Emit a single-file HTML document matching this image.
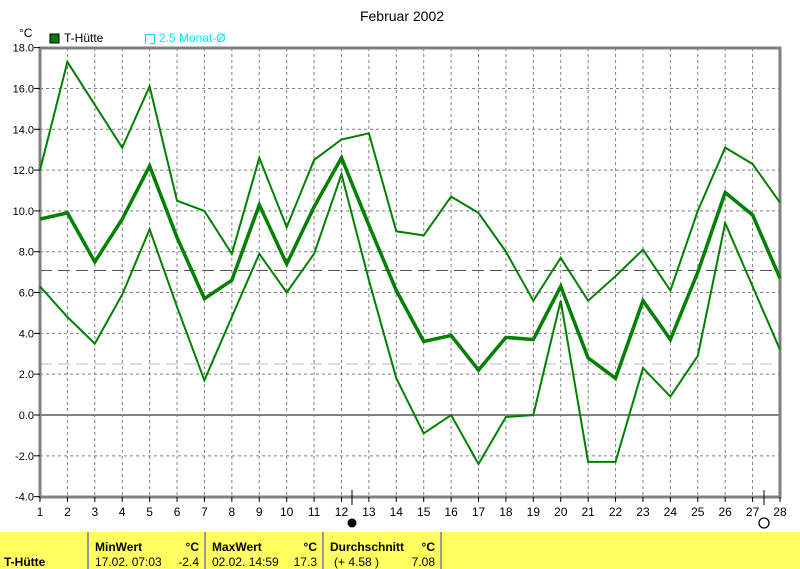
<!DOCTYPE html>
<html><head><meta charset="utf-8"><style>
body{margin:0;background:#fff;width:800px;height:569px;overflow:hidden;font-family:"Liberation Sans",sans-serif}
svg{position:absolute;left:0;top:0}
</style></head><body>
<svg id="s" width="800" height="569" xmlns="http://www.w3.org/2000/svg" font-family="Liberation Sans, sans-serif">
<text x="402" y="21" font-size="14" text-anchor="middle">Februar 2002</text>
<text x="19" y="37" font-size="12">°C</text>
<rect x="50" y="34" width="9" height="9" fill="#008000" stroke="#000" stroke-width="1"/>
<text x="64" y="42" font-size="12">T-Hütte</text>
<path d="M145.5 43.5V34.5H154.5V43.5H150" fill="none" stroke="#00e0ff" stroke-width="1"/>
<text x="159" y="42" font-size="12" fill="#00e8ff">2.5 Monat-Ø</text>
<g id="g"></g>
<rect x="0" y="532" width="800" height="37" fill="#ffff60"/>
<g stroke="#999" stroke-width="2"><line x1="88" y1="532" x2="88" y2="569"/><line x1="205" y1="532" x2="205" y2="569"/><line x1="323" y1="532" x2="323" y2="569"/><line x1="441" y1="532" x2="441" y2="569"/></g>
<g font-size="12">
<text x="4" y="566" font-weight="bold">T-Hütte</text>
<text x="95" y="551" font-weight="bold">MinWert</text><text x="199" y="551" font-weight="bold" text-anchor="end">°C</text>
<text x="95" y="566">17.02.  07:03</text><text x="199" y="566" text-anchor="end">-2.4</text>
<text x="212" y="551" font-weight="bold">MaxWert</text><text x="317" y="551" font-weight="bold" text-anchor="end">°C</text>
<text x="212" y="566">02.02.  14:59</text><text x="317" y="566" text-anchor="end">17.3</text>
<text x="330" y="551" font-weight="bold">Durchschnitt</text><text x="435" y="551" font-weight="bold" text-anchor="end">°C</text>
<text x="334" y="566">(+ 4.58 )</text><text x="435" y="566" text-anchor="end">7.08</text>
</g>
</svg>
<script>
const g=document.getElementById('g');let h='';
const X=n=>40+(n-1)*27.407, Y=v=>415-v*20.41;
for(let n=2;n<=27;n++)h+=`<line x1="${X(n)}" y1="48" x2="${X(n)}" y2="497" stroke="#808080" stroke-dasharray="3,3"/>`;
for(let v=-2;v<=16;v+=2)if(v!=0)h+=`<line x1="40" y1="${Y(v)}" x2="780" y2="${Y(v)}" stroke="#808080" stroke-dasharray="3,3"/>`;
h+=`<line x1="40" y1="${Y(0)}" x2="780" y2="${Y(0)}" stroke="#808080" stroke-width="2"/>`;
h+=`<line x1="40" y1="${Y(7.08)}" x2="780" y2="${Y(7.08)}" stroke="#555" stroke-dasharray="12,6"/>`;
h+=`<line x1="40" y1="${Y(2.5)}" x2="780" y2="${Y(2.5)}" stroke="#bbb" stroke-dasharray="12,6"/>`;
h+=`<path d="M40 48H780V497H40Z" fill="none" stroke="#808080" stroke-width="3"/>`;
for(let v=-4;v<=18;v+=2){h+=`<line x1="34" y1="${Y(v)}" x2="40" y2="${Y(v)}" stroke="#000"/><text x="34" y="${Y(v)+4}" font-size="11" text-anchor="end">${v.toFixed(1)}</text>`;}
for(let n=1;n<=28;n++){h+=`<line x1="${X(n)}" y1="497" x2="${X(n)}" y2="502" stroke="#000"/><text x="${X(n)}" y="516" font-size="12" text-anchor="middle">${n}</text>`;}
h+=`<line x1="352" y1="490" x2="352" y2="505" stroke="#000"/><circle cx="352" cy="523" r="4.5" fill="#000"/>`;
h+=`<line x1="764" y1="490" x2="764" y2="505" stroke="#000"/><circle cx="764" cy="523" r="5" fill="none" stroke="#000" stroke-width="1.3"/>`;
const mx=[12.0,17.3,15.2,13.1,16.1,10.5,10.0,7.9,12.6,9.2,12.5,13.5,13.8,9.0,8.8,10.7,9.9,8.0,5.6,7.7,5.6,6.8,8.1,6.1,10.0,13.1,12.3,10.4];
const me=[9.6,9.9,7.5,9.6,12.2,8.7,5.7,6.6,10.3,7.4,10.2,12.6,9.3,6.1,3.6,3.9,2.2,3.8,3.7,6.3,2.8,1.8,5.6,3.7,7.0,10.9,9.8,6.7];
const mn=[6.3,4.8,3.5,5.9,9.1,5.3,1.7,4.8,7.9,6.0,7.9,11.8,6.6,1.8,-0.9,0.0,-2.4,-0.1,0.0,5.6,-2.3,-2.3,2.3,0.9,2.9,9.4,6.3,3.2];
const P=a=>a.map((v,i)=>X(i+1).toFixed(1)+','+Y(v).toFixed(1)).join(' ');
h+=`<polyline points="${P(mx)}" fill="none" stroke="#008000" stroke-width="2"/>`;
h+=`<polyline points="${P(mn)}" fill="none" stroke="#008000" stroke-width="2"/>`;
h+=`<polyline points="${P(me)}" fill="none" stroke="#008000" stroke-width="3.5"/>`;
g.innerHTML=h;
</script>
</body></html>
